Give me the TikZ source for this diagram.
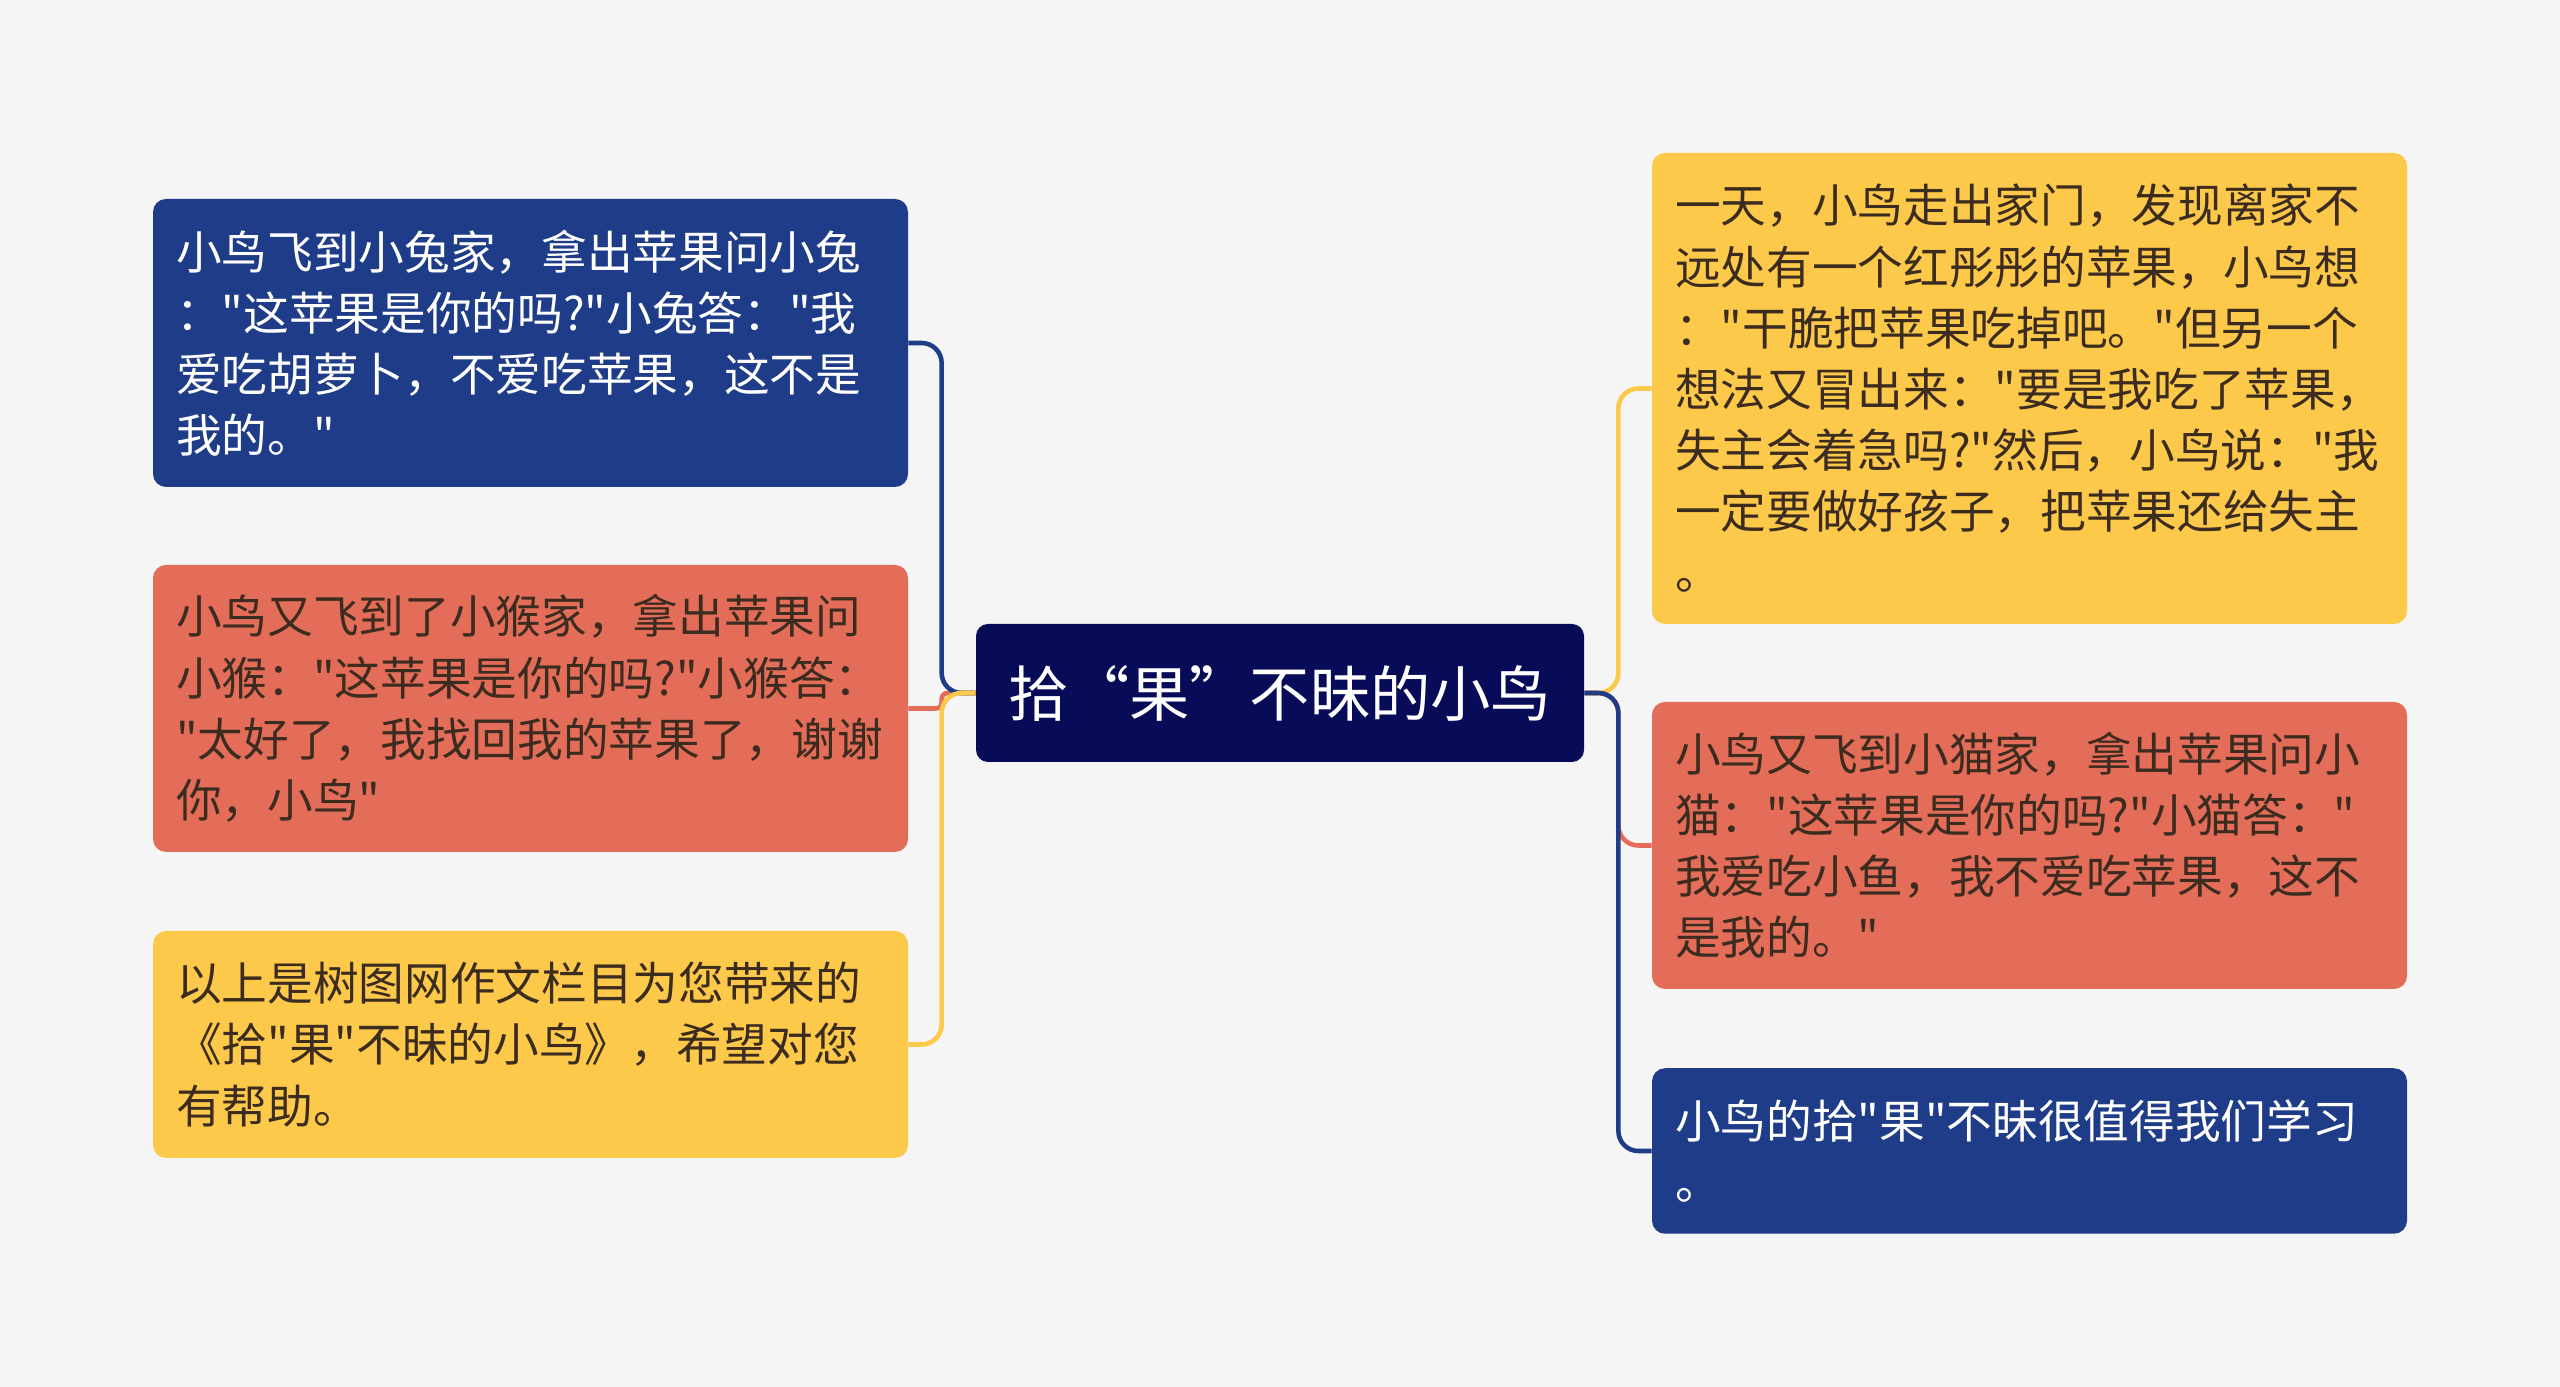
\documentclass[tikz,border=0pt]{standalone}
\usepackage{fontspec}
\usepackage{xcolor}
\usepackage{tikz}
\usetikzlibrary{positioning}
\newfontfamily\cjk{Noto Sans CJK SC}
\definecolor{fondo}{HTML}{F5F5F5}
\definecolor{noche}{HTML}{080C58}
\definecolor{azul}{HTML}{1F3C88}
\definecolor{coral}{HTML}{E46D59}
\definecolor{ambar}{HTML}{FDC94A}
\definecolor{tinta}{HTML}{3C2C20}
\tikzset{
  raiz/.style={fill=noche, text=white, rounded corners=0.24cm, inner sep=0pt,
               minimum width=12.16cm, minimum height=2.76cm, font={\cjk\fontsize{34.3}{40}\selectfont}},
  hoja/.style={rounded corners=0.26cm, inner xsep=0.46cm, inner ysep=0pt, text width=14.18cm,
               align=left, font={\cjk\fontsize{26}{34.8}\selectfont}},
  hojaazul/.style={hoja, fill=azul, text=white},
  hojacoral/.style={hoja, fill=coral, text=tinta},
  hojaambar/.style={hoja, fill=ambar, text=tinta},
  rama/.style={draw=#1, line width=2.6pt, rounded corners=0.4cm},
}
\begin{document}
\begin{tikzpicture}
  \fill[fondo] (0,0) rectangle (51.2,27.74);
  \useasboundingbox (0,0) rectangle (51.2,27.74);

  \node[raiz] (raiz) at (25.6,13.88) {拾“果”不昧的小鸟};

  % izquierda
  \node[hojaazul, minimum height=5.76cm] (tu) at (10.61,20.88)
    {小鸟飞到小兔家，拿出苹果问小兔\\："这苹果是你的吗?"小兔答："我\\爱吃胡萝卜，不爱吃苹果，这不是\\我的。"};
  \node[hojacoral, minimum height=5.74cm] (hou) at (10.61,13.57)
    {小鸟又飞到了小猴家，拿出苹果问\\小猴："这苹果是你的吗?"小猴答：\\"太好了，我找回我的苹果了，谢谢\\你，小鸟"};
  \node[hojaambar, minimum height=4.54cm] (fin) at (10.61,6.85)
    {以上是树图网作文栏目为您带来的\\《拾"果"不昧的小鸟》，希望对您\\有帮助。};

  % derecha
  \node[hojaambar, minimum height=9.42cm] (dia) at (40.59,19.97)
    {一天，小鸟走出家门，发现离家不\\远处有一个红彤彤的苹果，小鸟想\\："干脆把苹果吃掉吧。"但另一个\\想法又冒出来："要是我吃了苹果，\\失主会着急吗?"然后，小鸟说："我\\一定要做好孩子，把苹果还给失主\\。};
  \node[hojacoral, minimum height=5.74cm] (mao) at (40.59,10.83)
    {小鸟又飞到小猫家，拿出苹果问小\\猫："这苹果是你的吗?"小猫答："\\我爱吃小鱼，我不爱吃苹果，这不\\是我的。"};
  \node[hojaazul, minimum height=3.31cm] (xue) at (40.59,4.72)
    {小鸟的拾"果"不昧很值得我们学习\\。};

  \draw[rama=coral, rounded corners=0.12cm] (raiz.west) -- ++(-0.68,0) |- (hou.east);
  \draw[rama=azul] (raiz.west) -- ++(-0.68,0) |- (tu.east);
  \draw[rama=ambar] (raiz.west) -- ++(-0.68,0) |- (fin.east);
  \draw[rama=ambar] (raiz.east) -- ++(0.68,0) |- (dia.west);
  \draw[rama=coral] (raiz.east) -- ++(0.68,0) |- (mao.west);
  \draw[rama=azul] (raiz.east) -- ++(0.68,0) |- (xue.west);
\end{tikzpicture}
\end{document}
